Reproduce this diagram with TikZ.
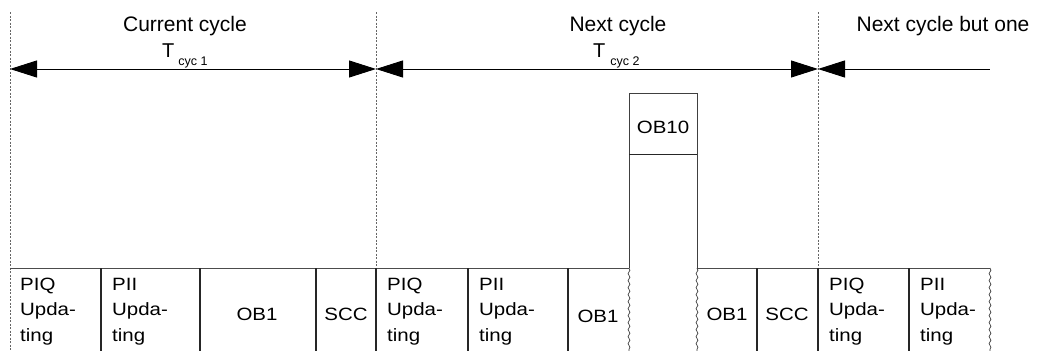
\documentclass[tikz,border=0pt]{standalone}
\usepackage{fontspec}
\setmainfont{Liberation Sans}
\newfontfamily\taskfam[FakeStretch=1.15]{Liberation Sans}
\usetikzlibrary{arrows.meta,decorations.pathmorphing}
\newcommand\taskfont{\taskfam\fontsize{17.8}{25.5}\selectfont}
\begin{document}
\begin{tikzpicture}[x=1pt,y=-1pt,
  >={Triangle[length=27pt,width=17pt]},
  boxline/.style={line width=1.2pt, draw=black!85},
  divider/.style={dash pattern=on 2pt off 1.5pt, line width=0.7pt, draw=black!60},
  wavy/.style={decorate, decoration={snake, amplitude=0.9pt, segment length=7pt}, line width=0.7pt, draw=black!75},
  dim/.style={line width=1pt, draw=black},
  head/.style={font=\fontsize{21}{24}\selectfont, anchor=base, inner sep=0pt},
  tsym/.style={font=\fontsize{20}{24}\selectfont, anchor=base west, inner sep=0pt},
  lbl/.style={font=\taskfont, align=left, anchor=base west, inner sep=0pt},
  ctr/.style={font=\taskfont, anchor=base, inner sep=0pt}
]
\clip (0,0) rectangle (1037,351);
\fill[white] (0,0) rectangle (1037,351);

% cycle boundaries
\coordinate (d1t) at (10,12);   \coordinate (d1b) at (10,351);
\coordinate (d2t) at (376,12);  \coordinate (d2b) at (376,268);
\coordinate (d3t) at (818,12);  \coordinate (d3b) at (818,268);
\draw[divider] (d1t) -- (d1b);
\draw[divider] (d2t) -- (d2b);
\draw[divider] (d3t) -- (d3b);

% cycle time arrows
\coordinate (a1) at (10,69);
\coordinate (a2) at (376,69);
\coordinate (a3) at (818,69);
\coordinate (a4) at (990,69);
\draw[dim, <->] (a1) -- (a2);
\draw[dim, <->] (a2) -- (a3);
\draw[dim, <-] (a3) -- (a4);

% headings
\node[head] (h1) at (185,31) {Current cycle};
\node[head] (h2) at (618,31) {Next cycle};
\node[head] (h3) at (943,31) {Next cycle but one};
\node[tsym] (t1) at (162,57) {T\hspace{4pt}\raisebox{-8pt}{\fontsize{12.5}{12.5}\selectfont cyc 1}};
\node[tsym] (t2) at (593,57) {T\hspace{5pt}\raisebox{-8pt}{\fontsize{12.5}{12.5}\selectfont cyc 2}};

% OB10 interrupt column
\coordinate (o1) at (629,93);  \coordinate (o2) at (697,93);
\coordinate (o3) at (629,154); \coordinate (o4) at (697,154);
\coordinate (o5) at (629,268); \coordinate (o6) at (697,268);
\draw[line width=0.9pt, draw=black!75] (o5) -- (o1) -- (o2) -- (o6);
\draw[line width=0.9pt, draw=black!85] (o3) -- (o4);
\node[ctr] (ob10) at (663,133) {OB10};

% bottom row top edge
\draw[line width=0.9pt, draw=black!70] (10,268) -- (629,268);
\draw[line width=0.9pt, draw=black!70] (697,268) -- (990,268);

% solid separators
\foreach \x in {101,200,316,376,468,568,757,818,909}
  \draw[boxline] (\x,268) -- (\x,351);

% wavy breaks
\draw[wavy] (629,268) -- (629,351);
\draw[wavy] (697,268) -- (697,351);
\draw[wavy] (990,268) -- (990,351);

% task labels (anchor = baseline of last line)
\node[lbl] (piq1) at (20,341) {PIQ\\Upda-\\ting};
\node[lbl] (pii1) at (112,341) {PII\\Upda-\\ting};
\node[ctr] (ob1a) at (257,320) {OB1};
\node[ctr] (scc1) at (346,320) {SCC};
\node[lbl] (piq2) at (387,341) {PIQ\\Upda-\\ting};
\node[lbl] (pii2) at (479,341) {PII\\Upda-\\ting};
\node[ctr] (ob1b) at (598,322) {OB1};
\node[ctr] (ob1c) at (727,320) {OB1};
\node[ctr] (scc2) at (787,320) {SCC};
\node[lbl] (piq3) at (829,341) {PIQ\\Upda-\\ting};
\node[lbl] (pii3) at (920,341) {PII\\Upda-\\ting};
\end{tikzpicture}
\end{document}
